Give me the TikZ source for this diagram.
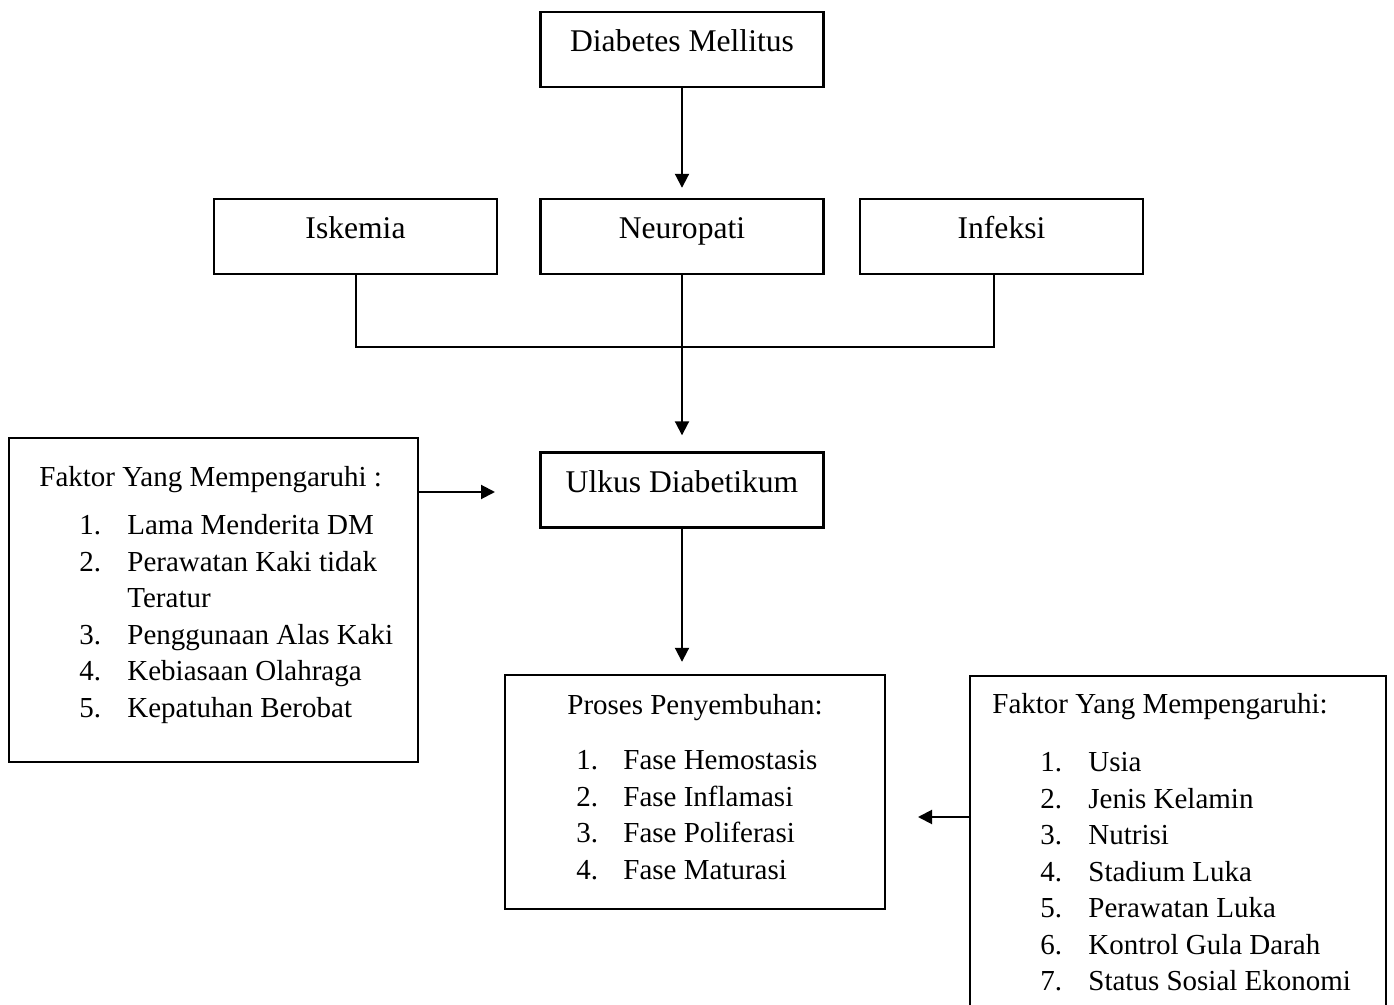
\documentclass[tikz,border=0pt]{standalone}
\usepackage{fontspec}
\setmainfont{Liberation Serif}
\usetikzlibrary{arrows.meta}
\usetikzlibrary{calc}

\tikzset{
  box/.style={draw, line width=1.2pt, inner sep=0pt, minimum width=141.5pt, minimum height=37.5pt,
    text height=10pt, text depth=7.5pt, font=\fontsize{15.8}{19}\selectfont},
  panel/.style={draw, line width=1.2pt, inner sep=0pt},
  listtext/.style={anchor=base west, inner sep=0pt, font=\fontsize{14.5}{18.25}\selectfont},
  conn/.style={line width=1pt},
  arr/.style={line width=1pt, -{Triangle[length=7pt,width=7pt]}},
}

\begin{document}
\begin{tikzpicture}[x=0.5pt, y=-0.5pt]
	\path[use as bounding box, clip] (0,0) rectangle (1394,1005);
	\node[box] (dm) at (682,49.5) {Diabetes Mellitus};
	\node[box] (iskemia) at (355.5,236.5) {Iskemia};
	\node[box] (neuropati) at (682,236.5) {Neuropati};
	\node[box] (infeksi) at (1001.5,236.5) {Infeksi};
	\node[box] (ulkus) at (682,490) {Ulkus Diabetikum};
	\node[panel, minimum width=204.5pt, minimum height=162pt] (faktorA) at (213.5,600) {};
	\node[panel, minimum width=190pt, minimum height=117pt] (proses) at (695,792) {};
	\node[panel, minimum width=208pt, minimum height=168pt] (faktorB) at (1178,844) {};
	\node[listtext] (faktorAlist) at (39,487) {\begin{tabular}[t]{@{}p{20pt}@{}p{24pt}@{}l@{}}
		\multicolumn{3}{@{}l@{}}{Faktor Yang Mempengaruhi :}\\[5.75pt]
		& 1. & Lama Menderita DM\\
		& 2. & Perawatan Kaki tidak\\
		&    & Teratur\\
		& 3. & Penggunaan Alas Kaki\\
		& 4. & Kebiasaan Olahraga\\
		& 5. & Kepatuhan Berobat
	\end{tabular}};
	\node[listtext] (proseslist) at (567,715) {\begin{tabular}[t]{@{}p{4.5pt}@{}p{23.5pt}@{}l@{}}
		\multicolumn{3}{@{}l@{}}{Proses Penyembuhan:}\\[9.25pt]
		& 1. & Fase Hemostasis\\
		& 2. & Fase Inflamasi\\
		& 3. & Fase Poliferasi\\
		& 4. & Fase Maturasi
	\end{tabular}};
	\node[listtext] (faktorBlist) at (992,714) {\begin{tabular}[t]{@{}p{24pt}@{}p{24pt}@{}l@{}}
		\multicolumn{3}{@{}l@{}}{Faktor Yang Mempengaruhi:}\\[10.75pt]
		& 1. & Usia\\
		& 2. & Jenis Kelamin\\
		& 3. & Nutrisi\\
		& 4. & Stadium Luka\\
		& 5. & Perawatan Luka\\
		& 6. & Kontrol Gula Darah\\
		& 7. & Status Sosial Ekonomi
	\end{tabular}};
	\coordinate (join) at (682,347);
	\coordinate (tipA) at (495,492);
	\coordinate (tipB) at (918,817);
	\draw[arr, shorten >=5pt] (dm.south) -- (neuropati.north);
	\draw[conn] (iskemia.south) |- (join);
	\draw[conn] ([xshift=-3.75pt]infeksi.south) |- (join);
	\draw[arr, shorten >=8pt] (neuropati.south) -- (ulkus.north);
	\draw[arr, shorten >=6pt] (ulkus.south) -- (proses.north -| ulkus.south);
	\draw[arr] (tipA -| faktorA.east) -- (tipA);
	\draw[arr] (tipB -| faktorB.west) -- (tipB);
\end{tikzpicture}
\end{document}
